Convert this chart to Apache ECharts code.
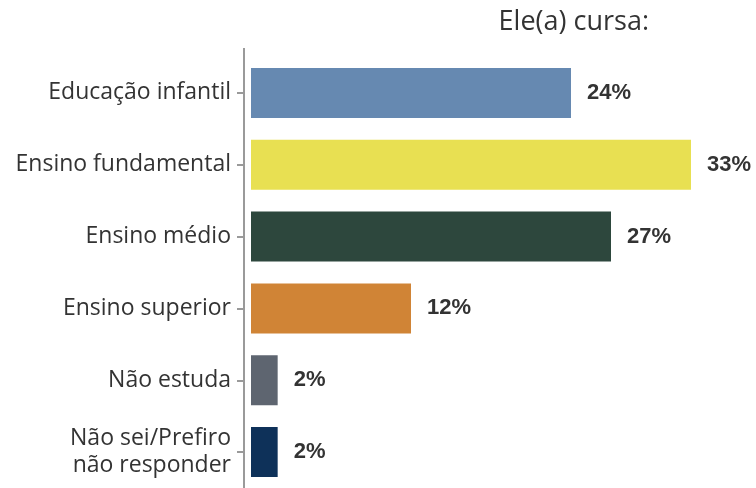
<!DOCTYPE html>
<html>
<head>
<meta charset="utf-8">
<script src="https://cdn.jsdelivr.net/npm/echarts@6/dist/echarts.min.js"></script>
<style>
  html, body { margin: 0; padding: 0; background: #fff; }
  #chart { width: 756px; height: 488px; }
</style>
</head>
<body>
<div id="chart"></div>
<script>
// categorias (de cima para baixo)
var categorias = [
    'Educação infantil',
    'Ensino fundamental',
    'Ensino médio',
    'Ensino superior',
    'Não estuda',
    'Não sei/Prefiro\nnão responder'
];
var valores = [24, 33, 27, 12, 2, 2];
var cores = ['#6689B1', '#E8E052', '#2D473D', '#D08436', '#5E6570', '#0E3159'];

var chart = echarts.init(document.getElementById('chart'));

var option = {
    animation: false,
    title: {
        text: 'Ele(a) cursa:',
        right: 102,
        top: 4,
        textStyle: {
            color: '#333',
            fontSize: 27,
            fontWeight: 'normal',
            fontFamily: 'Open Sans'
        }
    },
    grid: {
        left: 251,
        right: 65,
        top: 57,
        bottom: 0,
        containLabel: false
    },
    xAxis: {
        type: 'value',
        min: 0,
        max: 33,
        show: false
    },
    yAxis: {
        type: 'category',
        inverse: true,
        data: categorias,
        offset: 7,
        axisLine: { show: true, onZero: false, lineStyle: { color: '#9a9a9a', width: 2 } },
        axisTick: { show: true, length: 7, alignWithLabel: true, lineStyle: { color: '#9a9a9a', width: 2 } },
        axisLabel: {
            color: '#333',
            fontSize: 23,
            fontFamily: 'Open Sans',
            margin: 13,
            lineHeight: 27,
            align: 'right'
        }
    },
    series: [{
        type: 'bar',
        barWidth: 50,
        data: valores.map(function (v, i) {
            return { value: v, itemStyle: { color: cores[i] } };
        }),
        label: {
            show: true,
            position: 'right',
            distance: 16,
            formatter: '{c}%',
            color: '#333',
            fontSize: 22,
            fontWeight: 'bold',
            fontFamily: 'Liberation Sans'
        }
    }],
    graphic: [{
        type: 'line',
        shape: { x1: 244, y1: 48, x2: 244, y2: 58 },
        style: { stroke: '#9a9a9a', lineWidth: 2 }
    }]
};

chart.setOption(option);
</script>
</body>
</html>
